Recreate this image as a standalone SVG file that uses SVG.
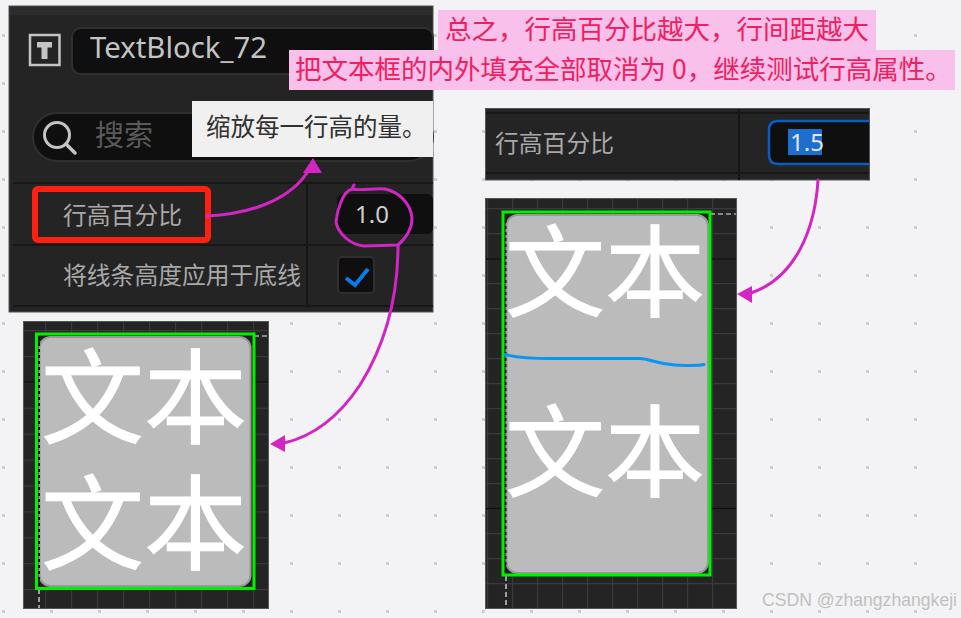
<svg xmlns="http://www.w3.org/2000/svg" width="961" height="618" viewBox="0 0 961 618">
<style>
text{font-family:"Noto Sans CJK SC","Noto Sans",sans-serif}
.panel{fill:#242424;stroke:#555;stroke-width:1}
.row{stroke:#171717;stroke-width:2;fill:none}
.lbl{font-size:23.8px;fill:#a8a8a8}
.note{font-size:26.500px;fill:#f0205f}
.pink{fill:#f9c0ec}
.big{fill:#fff;stroke:#fff;stroke-width:1}
.green{fill:none;stroke:#00f000;stroke-width:3}
.gray{fill:#bbb;stroke:#999;stroke-width:2}
.dash{stroke:#eee;stroke-width:1.2;stroke-dasharray:5 3;fill:none}
.dashk{stroke:#111;stroke-width:2;stroke-dasharray:3 3;fill:none}
.hand{fill:none;stroke:#d324c4;stroke-width:3;stroke-linecap:round}
.head{fill:#d324c4}
.field{fill:#0f0f0f}
</style>
<defs>
<pattern id="dots" width="48" height="48" patternUnits="userSpaceOnUse" x="-21" y="-13">
<rect x="23" y="47" width="3" height="3" fill="#cfcfd2"/><rect x="23" y="-1" width="3" height="3" fill="#cfcfd2"/>
</pattern>
<pattern id="gridL" width="26" height="25.9" patternUnits="userSpaceOnUse" x="19" y="330">
<path d="M0.5 0V26M0 0.5H26" stroke="#3a3a3a" stroke-width="1.3" fill="none"/>
</pattern>
<pattern id="gridR" width="25" height="25" patternUnits="userSpaceOnUse" x="487" y="208">
<path d="M0.5 0V25M0 0.5H25" stroke="#3a3a3a" stroke-width="1.3" fill="none"/>
</pattern>
</defs>
<rect width="961" height="618" fill="#f3f3f5"/>
<rect width="961" height="618" fill="url(#dots)"/>

<g id="panel-properties">
<rect class="panel" x="9" y="6" width="424" height="306"/>
<rect x="10" y="7" width="422" height="8" fill="#2c2c2c"/>
<g id="t-icon"><rect x="30" y="35" width="29.500" height="30" fill="none" stroke="#c4c4c4" stroke-width="2.500"/><path d="M37 42H52V47.500H47.500V59H41.500V47.500H37Z" fill="#c4c4c4"/></g>
<rect class="field" x="72" y="28" width="361" height="46" rx="9" stroke="#2f2f2f" stroke-width="2"/>
<text x="90" y="58" font-size="29" fill="#c4c4c4" style="font-family:'Noto Sans',sans-serif" textLength="177" lengthAdjust="spacingAndGlyphs">TextBlock_72</text>
<rect class="field" x="33" y="113" width="400" height="48" rx="24" stroke="#2f2f2f" stroke-width="2"/>
<circle cx="57" cy="135" r="12.500" fill="none" stroke="#c4c4c4" stroke-width="3"/>
<path d="M66 144L75 153" stroke="#c4c4c4" stroke-width="3.500" stroke-linecap="round"/>
<text x="95" y="146" font-size="29" fill="#5a5a5a">搜索</text>
<path class="row" d="M13 183H433M13 245H433M13 306H433M307 183V306"/>
<rect x="35" y="189" width="173" height="51" rx="3" fill="none" stroke="#ff2010" stroke-width="6"/>
<text class="lbl" x="63" y="224">行高百分比</text>
<text class="lbl" x="63" y="284">将线条高度应用于底线</text>
<rect class="field" x="337" y="194" width="96" height="40" rx="6"/>
<text x="355" y="223" font-size="24" fill="#d0d0d0" style="font-family:'Noto Sans',sans-serif">1.0</text>
<rect class="field" x="338" y="257" width="36" height="36" rx="4" stroke="#2f2f2f" stroke-width="2"/>
<path d="M346 278L355 285L368 269" fill="none" stroke="#0a7be8" stroke-width="4"/>
</g>

<g id="tooltip"><rect x="192" y="101" width="241" height="56" fill="#f0f0f0"/>
<text x="206" y="136" font-size="24.500" fill="#303030">缩放每一行高的量。</text></g>

<g id="note-1"><rect class="pink" x="438" y="10" width="438" height="40"/>
<text class="note" x="445" y="39">总之，行高百分比越大，行间距越大</text></g>
<g id="note-2"><rect class="pink" x="289" y="50" width="666" height="40"/>
<text class="note" x="295" y="79">把文本框的内外填充全部取消为 0，继续测试行高属性。</text></g>

<g id="panel-value">
<rect class="panel" x="485.500" y="108.500" width="384" height="71.500"/>
<path class="row" d="M486 113H869M486 173H869M739 109V180"/>
<text class="lbl" x="495" y="152">行高百分比</text>
<path d="M869 121H778Q769 121 769 130V155Q769 164 778 164H869" fill="#0f0f0f" stroke="#0b5cc4" stroke-width="2.500"/>
<rect x="788" y="129" width="34" height="26" fill="#1c6fd0"/>
<text x="790" y="151" font-size="24" fill="#e6e6e6" style="font-family:'Noto Sans',sans-serif">1.5</text>
</g>

<g id="preview-left">
<rect class="panel" x="23.500" y="321.500" width="245" height="287"/>
<rect x="24" y="322" width="244" height="286" fill="url(#gridL)"/>
<path d="M24 382H268" stroke="#111" stroke-width="1.500"/>
<rect x="38" y="336" width="215" height="252" fill="#222"/>
<rect class="gray" x="39.500" y="337" width="211" height="249" rx="11"/>
<path class="dash" d="M254 336H269M39 589V608"/>
<path class="dashk" d="M39 337V589"/>
<rect class="green" x="36.500" y="334" width="217.500" height="254.500"/>
<text class="big" x="41" y="436" font-size="103">文本</text>
<text class="big" x="41" y="561.500" font-size="103">文本</text>
</g>

<g id="preview-right">
<rect class="panel" x="485.500" y="198.500" width="251" height="410"/>
<rect x="486" y="199" width="250" height="409" fill="url(#gridR)"/>
<path d="M486 259H736M486 508.500H736" stroke="#111" stroke-width="1.500"/>
<rect x="505" y="214" width="204" height="360" fill="#222"/>
<rect class="gray" x="506.500" y="215" width="201.500" height="358" rx="11"/>
<path class="dash" d="M710 214H736M506 576V608"/>
<path class="dashk" d="M505.500 214V575"/>
<rect class="green" x="503" y="212" width="207" height="363"/>
<text class="big" x="505" y="309" font-size="100">文本</text>
<text class="big" x="505" y="489" font-size="100">文本</text>
<path d="M505 354.500C515 357 530 358.500 550 358.500L640 358.500C652 359 655 364 675 365C690 365.500 698 366 704 364.500" fill="none" stroke="#0a96ee" stroke-width="3" stroke-linecap="round"/>
</g>

<g id="connectors">
<path class="hand" d="M207 216C250 214 292 200 310 168"/>
<polygon class="head" points="313,158 303,173 322,173"/>
<path class="hand" d="M354 185L352 189C343 191 337 210 336 222C338 233 350 245 364 246L398 245C406 238 412 228 412 218C411 205 400 192 385 189C375 188 360 191 352 189"/>
<path class="hand" d="M398 245C398 300 385 345 360 385C340 415 315 436 284 443"/>
<polygon class="head" points="270,444 285,435 285,452"/>
<path class="hand" d="M818 180C815 230 795 278 751 293"/>
<polygon class="head" points="737,294 752,286 752,303"/>
</g>

<text id="watermark" x="762" y="606" font-size="18" fill="#c0c0c0" style="font-family:'Liberation Sans',sans-serif" textLength="195" lengthAdjust="spacingAndGlyphs">CSDN @zhangzhangkeji</text>
</svg>
